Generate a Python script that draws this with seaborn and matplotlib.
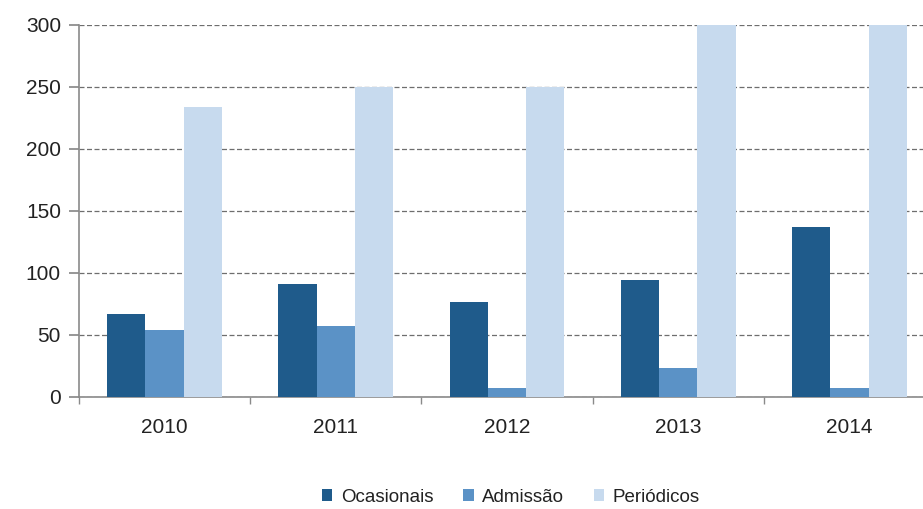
import matplotlib
matplotlib.use("Agg")
import matplotlib.pyplot as plt
import seaborn as sns
import pandas as pd
import numpy as np

years = ["2010", "2011", "2012", "2013", "2014"]
ocasionais = [67, 91, 77, 94, 137]
admissao = [54, 57, 7, 23, 7]
periodicos = [234, 250, 250, 300, 300]
series_names = ["Ocasionais", "Admissão", "Periódicos"]
colors = ["#1f5b8b", "#5b92c6", "#c7daee"]

df = pd.DataFrame({
    "Ano": years * 3,
    "Tipo": [series_names[0]] * 5 + [series_names[1]] * 5 + [series_names[2]] * 5,
    "Valor": ocasionais + admissao + periodicos,
})

sns.set_theme(style="white")
plt.rcParams["font.family"] = ["Liberation Sans", "DejaVu Sans"]

fig = plt.figure(figsize=(9.23, 5.09), dpi=100)
ax = fig.add_axes([79 / 923, 112 / 509, 856 / 923, 372 / 509])

sns.barplot(data=df, x="Ano", y="Valor", hue="Tipo", palette=colors,
            width=0.67, saturation=1, linewidth=0, edgecolor="none",
            ax=ax, legend=True, zorder=3)

ax.set_ylim(0, 300)
ax.set_xlim(-0.5, 4.5)
ax.set_yticks(np.arange(0, 301, 50))
ax.yaxis.grid(True, linestyle=(0, (4, 2)), color="#6e6e6e", linewidth=0.9, zorder=0)
ax.xaxis.grid(False)
ax.set_axisbelow(True)

for side in ["top", "right"]:
    ax.spines[side].set_visible(False)
for side in ["left", "bottom"]:
    ax.spines[side].set_color("#8a8a8a")
    ax.spines[side].set_linewidth(1.2)

ax.set_xlabel("")
ax.set_ylabel("")
ax.tick_params(axis="y", which="major", left=True, length=7, color="#8a8a8a",
               labelsize=15, labelcolor="#222222", pad=6)
ax.tick_params(axis="x", which="major", bottom=False, labelsize=15,
               labelcolor="#222222", pad=9)
ax.set_xticks(np.arange(-0.5, 4.6, 1.0), minor=True)
ax.tick_params(axis="x", which="minor", bottom=True, length=5, color="#8a8a8a")

ax.legend(loc="center", bbox_to_anchor=((511 - 79) / 856, -(497 - 397) / 372),
          ncol=3, frameon=False, fontsize=13.5, handlelength=0.55, handleheight=0.55,
          handletextpad=0.45, columnspacing=1.6, labelcolor="#222222")

fig.savefig("out.png", dpi=100)
